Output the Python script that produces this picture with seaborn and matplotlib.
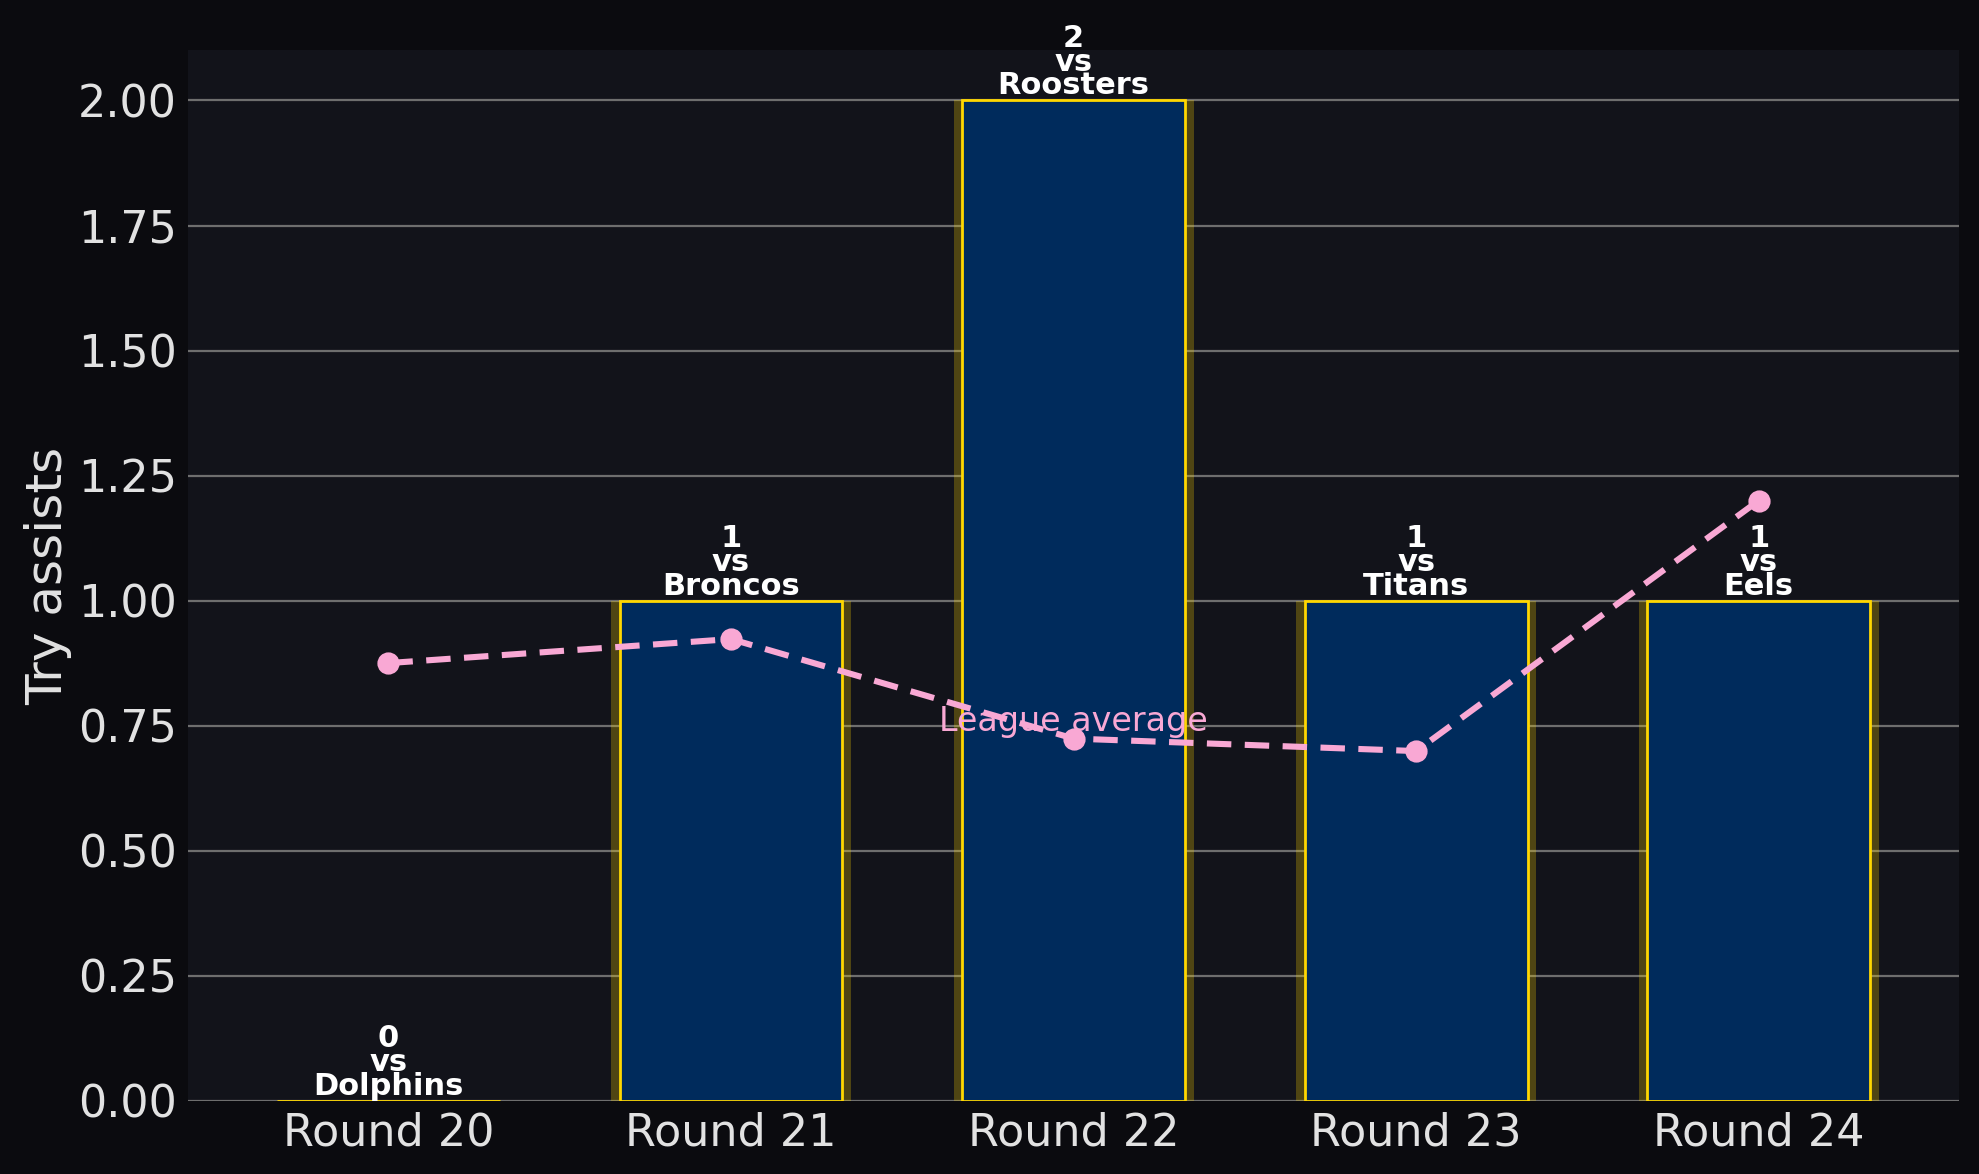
import numpy as np
import pandas as pd
import matplotlib
matplotlib.use("Agg")
import matplotlib.pyplot as plt
import seaborn as sns

# données
rounds = ["Round 20", "Round 21", "Round 22", "Round 23", "Round 24"]
opponents = ["Dolphins", "Broncos", "Roosters", "Titans", "Eels"]
try_assists = [0, 1, 2, 1, 1]
league_avg = [0.875, 0.923, 0.724, 0.699, 1.20]

df = pd.DataFrame({"round": rounds, "try_assists": try_assists, "opponent": opponents})

# couleurs
fig_bg = "#0b0b0f"
ax_bg = "#12131a"
navy = "#002b5c"
gold = "#ffd700"
pink = "#f9a8d4"
txt = "#e2e2e2"

sns.set_style("dark", {"axes.facecolor": ax_bg, "figure.facecolor": fig_bg})
plt.rcParams["font.family"] = ["DejaVu Sans"]

fig = plt.figure(figsize=(9.895, 5.87), dpi=200, facecolor=fig_bg)
ax = fig.add_axes([0.095, 0.0625, 0.895, 0.8945])
ax.set_facecolor(ax_bg)

# halo derrière les barres
sns.barplot(data=df, x="round", y="try_assists", width=0.7, color=gold, alpha=0.26,
            saturation=1, linewidth=0, ax=ax, zorder=2)
# barres principales
sns.barplot(data=df, x="round", y="try_assists", width=0.65, color=navy,
            saturation=1, edgecolor=gold, linewidth=1.0, ax=ax, zorder=3)

# moyenne de la ligue
ax.plot(range(len(rounds)), league_avg, color=pink, linestyle="--", linewidth=2.2,
        marker="o", markersize=7, dashes=(4, 2.2), zorder=5)
ax.text(2, league_avg[2] + 0.015, "League average", color=pink, fontsize=12,
        ha="center", va="baseline", zorder=6)

# étiquettes au-dessus des barres
for i, (v, opp) in enumerate(zip(try_assists, opponents)):
    ax.text(i, v, f"{v}\nvs\n{opp}", ha="center", va="bottom", color="white",
            fontsize=11, fontweight="bold", linespacing=0.78, zorder=7)

ax.set_xlim(-0.585, 4.585)
ax.set_ylim(0, 2.1)
ax.set_yticks(np.arange(0, 2.01, 0.25))
ax.set_yticklabels([f"{t:.2f}" for t in np.arange(0, 2.01, 0.25)])
ax.set_xlabel("")
ax.set_ylabel("Try assists", fontsize=18, color=txt, labelpad=2)
ax.tick_params(axis="both", labelsize=16, colors=txt, length=0, pad=4)
ax.yaxis.grid(True, color="#6e6e6e", linewidth=0.8, zorder=0)
ax.xaxis.grid(False)
ax.set_axisbelow(True)
for s in ax.spines.values():
    s.set_visible(False)

fig.savefig("out.png", dpi=200, facecolor=fig_bg)
